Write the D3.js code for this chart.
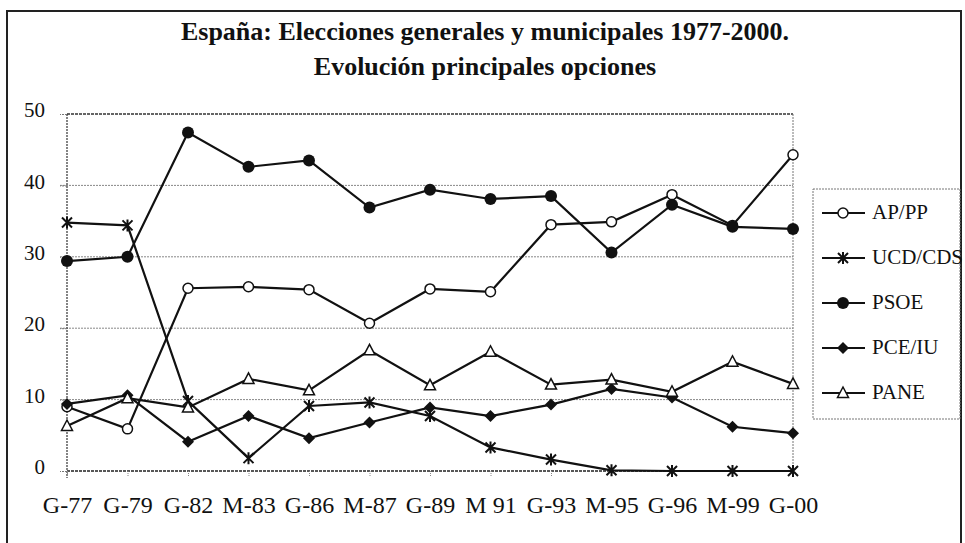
<!DOCTYPE html>
<html>
<head>
<meta charset="utf-8">
<script src="https://cdn.jsdelivr.net/npm/d3@7"></script>
<style>
	body{margin:0;background:#fff;}
	svg{display:block;}
	text{font-family:"Liberation Serif","Times New Roman",serif;fill:#111;}
</style>
</head>
<body>
<svg id="chart" width="965" height="543"></svg>
<script>
// data
var categories = ["G-77","G-79","G-82","M-83","G-86","M-87","G-89","M 91","G-93","M-95","G-96","M-99","G-00"];
var yTicks = [0, 10, 20, 30, 40, 50];
var apPP   = [9.0, 5.9, 25.6, 25.8, 25.4, 20.7, 25.5, 25.1, 34.5, 34.9, 38.7, 34.4, 44.3];
var ucdCDS = [34.8, 34.4, 9.8, 1.8, 9.1, 9.6, 7.7, 3.3, 1.6, 0.1, 0, 0, 0];
var psoe   = [29.4, 30.0, 47.4, 42.6, 43.5, 36.9, 39.4, 38.1, 38.5, 30.6, 37.3, 34.2, 33.9];
var pceIU  = [9.4, 10.6, 4.1, 7.7, 4.6, 6.8, 8.9, 7.7, 9.3, 11.5, 10.3, 6.2, 5.3];
var pane   = [6.3, 10.2, 8.9, 12.9, 11.3, 16.9, 12.0, 16.7, 12.1, 12.8, 11.1, 15.3, 12.2];
var seriesNames = ["AP/PP", "UCD/CDS", "PSOE", "PCE/IU", "PANE"];
var seriesMarkers = ["openCircle", "star", "dot", "diamond", "triangle"];

(function(){
var svg = d3.select("#chart"),
	plotLeft = 67, plotRight = 793, plotTop = 114, plotBottom = 471,
	x = d3.scalePoint().domain(categories).range([plotLeft, plotRight]),
	y = d3.scaleLinear().domain([0, 50]).range([plotBottom, plotTop]),
	series = [apPP, ucdCDS, psoe, pceIU, pane].map(function(vals, i){
		return {name: seriesNames[i], marker: seriesMarkers[i], values: vals};
	});

drawFrame();
drawTitle();
drawGrid();
drawAxes();
drawLines();
drawLegend();

function drawFrame(){
	svg.append("path").attr("d", "M7,543V11H961V543")
		.attr("stroke", "#222").attr("stroke-width", 2).attr("fill", "none");
}

function drawTitle(){
	var t = svg.append("g").attr("font-weight", "bold").attr("text-anchor", "middle");
	t.append("text").attr("x", 485).attr("y", 40).attr("font-size", "26px")
		.text("España: Elecciones generales y municipales 1977-2000.");
	t.append("text").attr("x", 485).attr("y", 75).attr("font-size", "26px")
		.text("Evolución principales opciones");
}

function drawGrid(){
	var g = svg.append("g").attr("class", "grid");
	g.selectAll("line.h").data(yTicks.filter(function(d){return d > 0 && d < 50;}))
		.enter().append("line")
		.attr("x1", plotLeft - 7).attr("x2", plotRight)
		.attr("y1", function(d){return y(d);}).attr("y2", function(d){return y(d);})
		.attr("stroke", "#888").attr("stroke-width", 1).attr("stroke-dasharray", "2,1");
	// plot box: top and right
	g.append("line").attr("x1", plotLeft).attr("x2", plotRight).attr("y1", y(50)).attr("y2", y(50))
		.attr("stroke", "#333").attr("stroke-width", 1.5).attr("stroke-dasharray", "3,1");
	g.append("line").attr("x1", plotRight).attr("x2", plotRight).attr("y1", y(50)).attr("y2", plotBottom)
		.attr("stroke", "#777").attr("stroke-width", 1).attr("stroke-dasharray", "2,1");
}

function drawAxes(){
	var yAxis = d3.axisLeft(y).tickValues(yTicks).tickSize(7).tickPadding(15),
		xAxis = d3.axisBottom(x).tickSize(6).tickPadding(0);

	var ya = svg.append("g").attr("transform", "translate(" + plotLeft + ",0)").call(yAxis);
	ya.select(".domain").attr("stroke", "#333").attr("stroke-width", 1.2).attr("stroke-dasharray", "2,1")
		.attr("d", "M0," + y(50) + "V" + (plotBottom + 7));
	ya.selectAll(".tick line").attr("stroke", "#777").attr("stroke-dasharray", "2,1");
	ya.selectAll("text").attr("font-size", "21px").attr("dy", "0.13em").attr("fill", "#111");

	var xa = svg.append("g").attr("transform", "translate(0," + plotBottom + ")").call(xAxis);
	xa.select(".domain").attr("stroke", "#222").attr("stroke-width", 1.5).attr("stroke-dasharray", "3,1")
		.attr("d", "M" + plotLeft + ",0H" + plotRight);
	xa.selectAll(".tick line").attr("stroke", "#888").attr("stroke-dasharray", "1,1");
	xa.selectAll("text").attr("font-size", "24px").attr("y", 42).attr("dy", 0).attr("fill", "#111");
}

function drawMarker(sel, type){
	if(type === "openCircle"){
		sel.append("circle").attr("r", 5).attr("fill", "#fff").attr("stroke", "#111").attr("stroke-width", 1.5);
	} else if(type === "dot"){
		sel.append("circle").attr("r", 6).attr("fill", "#111");
	} else if(type === "diamond"){
		sel.append("path").attr("d", "M0,-6L6,0L0,6L-6,0Z").attr("fill", "#111");
	} else if(type === "triangle"){
		sel.append("path").attr("d", "M0,-6L5.5,4.5H-5.5Z").attr("fill", "#fff").attr("stroke", "#111").attr("stroke-width", 1.5);
	} else if(type === "star"){
		sel.append("path").attr("d", "M-5,-5L5,5M-5,5L5,-5M0,-6V6").attr("stroke", "#111").attr("stroke-width", 2);
	}
}

function drawLines(){
	var line = d3.line()
		.x(function(d, i){return x(categories[i]);})
		.y(function(d){return y(d);});

	svg.append("g").attr("class", "lines")
		.selectAll("path").data(series).enter().append("path")
		.attr("d", function(d){return line(d.values);})
		.attr("fill", "none").attr("stroke", "#111").attr("stroke-width", 2.2);

	series.forEach(function(s){
		var pts = svg.append("g").selectAll("g").data(s.values).enter().append("g")
			.attr("transform", function(d, i){return "translate(" + x(categories[i]) + "," + y(d) + ")";});
		pts.each(function(){ drawMarker(d3.select(this), s.marker); });
	});
}

function drawLegend(){
	var lg = svg.append("g").attr("class", "legend");
	lg.append("rect").attr("x", 813).attr("y", 189).attr("width", 147).attr("height", 230)
		.attr("fill", "#fff").attr("stroke", "#777").attr("stroke-width", 1).attr("stroke-dasharray", "2,1");
	var items = lg.selectAll("g.item").data(series).enter().append("g")
		.attr("transform", function(d, i){return "translate(0," + (213 + i * 45) + ")";});
	items.append("line").attr("x1", 822).attr("x2", 865).attr("stroke", "#111").attr("stroke-width", 2);
	items.each(function(d){
		var m = d3.select(this).append("g").attr("transform", "translate(843,0)");
		drawMarker(m, d.marker);
	});
	items.append("text").attr("x", 872).attr("y", 6).attr("font-size", "21px").text(function(d){return d.name;});
}
})();
</script>
</body>
</html>
